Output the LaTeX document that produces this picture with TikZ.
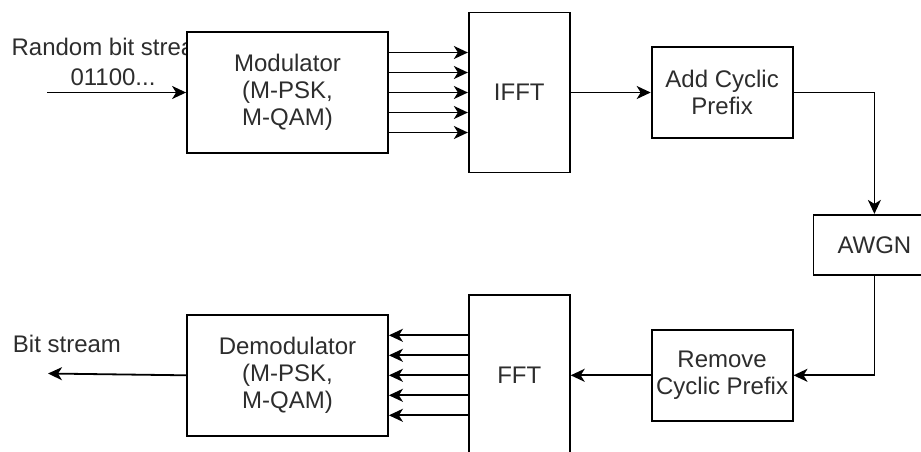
\documentclass[tikz,border=0pt]{standalone}
\usepackage{fontspec}
\setmainfont{Liberation Sans}
\usepackage{xcolor}
\definecolor{labelgray}{RGB}{45,45,45}
\usetikzlibrary{arrows.meta,positioning}

\begin{document}
\begin{tikzpicture}[x=1pt,y=-1pt,
node distance=80pt and 80pt,
block/.style={draw=black,line width=1.8pt,fill=white,align=center,text=labelgray,inner sep=0pt,
  font=\fontsize{24}{27}\selectfont},
wide/.style={block,minimum width=201pt,minimum height=121pt},
tall/.style={block,minimum width=101pt,minimum height=160pt},
mid/.style={block,minimum width=141pt,minimum height=91pt},
lbl/.style={align=center,text=labelgray,inner sep=0pt,font=\fontsize{24}{30}\selectfont},
arrow/.style={-{Stealth[length=14pt,width=13pt,inset=4pt]},line width=1.8pt,draw=black}]
\clip (0,0) rectangle (921,451);
\node[lbl] (srclbl) at (113,62) {Random bit stream\\01100...};
\node[wide] (mod) at (287.5,92.5) {Modulator\\(M-PSK,\\M-QAM)};
\node[tall,right=79pt of mod] (ifft) {IFFT};
\node[mid,right=of ifft] (addcp) {Add Cyclic\\Prefix};
\node[block,minimum width=122pt,minimum height=60pt,below right=75pt and 19pt of addcp] (awgn) {AWGN};
\node[mid,below=190pt of addcp] (remcp) {Remove\\Cyclic Prefix};
\node[tall,left=of remcp] (fft) {FFT};
\node[wide,left=79pt of fft] (demod) {Demodulator\\(M-PSK,\\M-QAM)};
\node[lbl,font=\fontsize{24}{27}\selectfont] (sinklbl) at (67,344) {Bit stream};
\coordinate (src) at (47,92.5);
\coordinate (sink) at (48,373.5);
\draw[arrow] (src)--(mod.west);
\foreach \dy in {-40,-20,0,20,40}
  \draw[arrow] ([yshift=\dy pt]mod.east)--([yshift=\dy pt]ifft.west);
\draw[arrow] (ifft)--(addcp); \draw[arrow] (addcp.east)-|(awgn.north);
\draw[arrow] (awgn.south)|-(remcp.east); \draw[arrow] (remcp)--(fft);
\foreach \dy in {-40,-20,0,20,40}
  \draw[arrow] ([yshift=\dy pt]fft.west)--([yshift=\dy pt]demod.east);
\draw[arrow] (demod.west)--(sink);
\end{tikzpicture}
\end{document}
